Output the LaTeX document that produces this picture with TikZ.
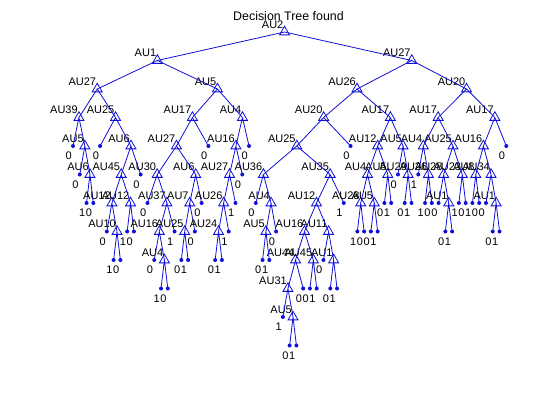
\documentclass[tikz,border=0pt]{standalone}
\usepackage{fontspec}
\setmainfont{Liberation Sans}
\usetikzlibrary{calc,shapes.geometric}
\definecolor{treeblue}{RGB}{15,15,215}
\tikzset{
  branch/.style={draw=treeblue, line width=0.8pt},
  splitmark/.style={regular polygon, regular polygon sides=3, draw=treeblue,
    line width=0.8pt, minimum size=11.5pt, inner sep=0pt},
  leafdot/.style={circle, fill=treeblue, minimum size=4pt, inner sep=0pt},
  featuretext/.style={anchor=base east, inner sep=0pt, font=\fontsize{11pt}{13pt}\selectfont},
  classtext/.style={anchor=base east, inner sep=0pt, font=\fontsize{11pt}{13pt}\selectfont},
  titletext/.style={anchor=base, inner sep=0pt, font=\fontsize{12.4pt}{14pt}\selectfont}
}
% leaf: name, position in leaf order, depth, class
\newcommand\leafnd[4]{%
  \node[leafdot] (#1) at ({73+6.77*#2},{32+28.5*#3}) {};
  \node[classtext] (#1t) at ([shift={(-1,13.5)}]#1.center) {#4};}
% split: name, left child, right child, attribute
\newcommand\splitnd[4]{%
  \node[splitmark] (#1) at ($(#2.center)!0.5!(#3.center)+(0,-28.5)$) {};
  \node[featuretext] (#1t) at ([shift={(-1,-3.8)}]#1.center) {#4};
  \draw[branch] (#1.center) -- (#2.center) (#1.center) -- (#3.center);}
\begin{document}
\begin{tikzpicture}[x=1pt,y=-1pt]
\useasboundingbox (0,0) rectangle (560,420);
\node[titletext] (title) at (288.5,20.5) {Decision Tree found};
% leaves
\leafnd{l0}{0}{4}{0}
\leafnd{l1}{1}{5}{0}
\leafnd{l2}{2}{6}{1}
\leafnd{l3}{3}{6}{0}
\leafnd{l4}{4}{4}{0}
\leafnd{l5}{5}{7}{0}
\leafnd{l6}{6}{8}{1}
\leafnd{l7}{7}{8}{0}
\leafnd{l8}{8}{7}{1}
\leafnd{l9}{9}{7}{0}
\leafnd{l10}{10}{5}{0}
\leafnd{l11}{11}{6}{0}
\leafnd{l12}{12}{8}{0}
\leafnd{l13}{13}{9}{1}
\leafnd{l14}{14}{9}{0}
\leafnd{l15}{15}{7}{1}
\leafnd{l16}{16}{8}{0}
\leafnd{l17}{17}{8}{1}
\leafnd{l18}{18}{7}{0}
\leafnd{l19}{19}{6}{0}
\leafnd{l20}{20}{4}{0}
\leafnd{l21}{21}{8}{0}
\leafnd{l22}{22}{8}{1}
\leafnd{l23}{23}{7}{1}
\leafnd{l24}{24}{6}{1}
\leafnd{l25}{25}{5}{0}
\leafnd{l26}{26}{4}{0}
\leafnd{l27}{27}{6}{0}
\leafnd{l28}{28}{8}{0}
\leafnd{l29}{29}{8}{1}
\leafnd{l30}{30}{7}{0}
\leafnd{l31}{31}{10}{1}
\leafnd{l32}{32}{11}{0}
\leafnd{l33}{33}{11}{1}
\leafnd{l34}{34}{9}{0}
\leafnd{l35}{35}{9}{0}
\leafnd{l36}{36}{9}{1}
\leafnd{l37}{37}{8}{0}
\leafnd{l38}{38}{9}{0}
\leafnd{l39}{39}{9}{1}
\leafnd{l40}{40}{6}{1}
\leafnd{l41}{41}{4}{0}
\leafnd{l42}{42}{7}{1}
\leafnd{l43}{43}{7}{0}
\leafnd{l44}{44}{7}{0}
\leafnd{l45}{45}{7}{1}
\leafnd{l46}{46}{6}{0}
\leafnd{l47}{47}{6}{1}
\leafnd{l48}{48}{5}{0}
\leafnd{l49}{49}{6}{0}
\leafnd{l50}{50}{6}{1}
\leafnd{l51}{51}{5}{1}
\leafnd{l52}{52}{6}{1}
\leafnd{l53}{53}{6}{0}
\leafnd{l54}{54}{6}{0}
\leafnd{l55}{55}{7}{0}
\leafnd{l56}{56}{7}{1}
\leafnd{l57}{57}{6}{1}
\leafnd{l58}{58}{6}{0}
\leafnd{l59}{59}{6}{1}
\leafnd{l60}{60}{6}{0}
\leafnd{l61}{61}{6}{0}
\leafnd{l62}{62}{7}{0}
\leafnd{l63}{63}{7}{1}
\leafnd{l64}{64}{4}{0}
% left half, splits from the bottom up
\splitnd{a111}{l2}{l3}{AU6}
\splitnd{a11}{l1}{a111}{AU5}
\splitnd{a1}{l0}{a11}{AU39}
\splitnd{a21111}{l6}{l7}{AU10}
\splitnd{a2111}{l5}{a21111}{AU12}
\splitnd{a2112}{l8}{l9}{AU12}
\splitnd{a211}{a2111}{a2112}{AU45}
\splitnd{a21}{a211}{l10}{AU6}
\splitnd{a2}{l4}{a21}{AU25}
\splitnd{a}{a1}{a2}{AU27}
\splitnd{b111111}{l13}{l14}{AU4}
\splitnd{b11111}{l12}{b111111}{AU16}
\splitnd{b1111}{b11111}{l15}{AU37}
\splitnd{b111}{l11}{b1111}{AU30}
\splitnd{b11211}{l16}{l17}{AU25}
\splitnd{b1121}{b11211}{l18}{AU7}
\splitnd{b112}{b1121}{l19}{AU6}
\splitnd{b11}{b111}{b112}{AU27}
\splitnd{b1}{b11}{l20}{AU17}
\splitnd{b21111}{l21}{l22}{AU24}
\splitnd{b2111}{b21111}{l23}{AU26}
\splitnd{b211}{b2111}{l24}{AU27}
\splitnd{b21}{b211}{l25}{AU16}
\splitnd{b2}{b21}{l26}{AU4}
\splitnd{b}{b1}{b2}{AU5}
\splitnd{nA}{a}{b}{AU1}
% right half
\splitnd{e1111}{l32}{l33}{AU5}
\splitnd{e111}{l31}{e1111}{AU31}
\splitnd{e11}{e111}{l34}{AU44}
\splitnd{e12}{l35}{l36}{AU45}
\splitnd{e1}{e11}{e12}{AU16}
\splitnd{e21}{l38}{l39}{AU1}
\splitnd{e2}{l37}{e21}{AU11}
\splitnd{c1121}{e1}{e2}{AU12}
\splitnd{c112}{c1121}{l40}{AU35}
\splitnd{c11111}{l28}{l29}{AU5}
\splitnd{c1111}{c11111}{l30}{AU4}
\splitnd{c111}{l27}{c1111}{AU36}
\splitnd{c11}{c111}{c112}{AU25}
\splitnd{c1}{c11}{l41}{AU20}
\splitnd{c2111}{l42}{l43}{AU28}
\splitnd{c2112}{l44}{l45}{AU5}
\splitnd{c211}{c2111}{c2112}{AU4}
\splitnd{c212}{l46}{l47}{AU5}
\splitnd{c21}{c211}{c212}{AU12}
\splitnd{c221}{l49}{l50}{AU29}
\splitnd{c22}{l48}{c221}{AU5}
\splitnd{c2}{c21}{c22}{AU17}
\splitnd{c}{c1}{c2}{AU26}
\splitnd{d111}{l52}{l53}{AU26}
\splitnd{d11}{l51}{d111}{AU4}
\splitnd{d1211}{l55}{l56}{AU1}
\splitnd{d121}{l54}{d1211}{AU28}
\splitnd{d122}{l57}{l58}{AU23}
\splitnd{d12}{d121}{d122}{AU25}
\splitnd{d211}{l59}{l60}{AU8}
\splitnd{d2121}{l62}{l63}{AU1}
\splitnd{d212}{l61}{d2121}{AU34}
\splitnd{d21}{d211}{d212}{AU16}
\splitnd{d2}{d21}{l64}{AU17}
\splitnd{d1}{d11}{d12}{AU17}
\splitnd{d}{d1}{d2}{AU20}
\splitnd{nB}{c}{d}{AU27}
\splitnd{root}{nA}{nB}{AU2}
\end{tikzpicture}
\end{document}
